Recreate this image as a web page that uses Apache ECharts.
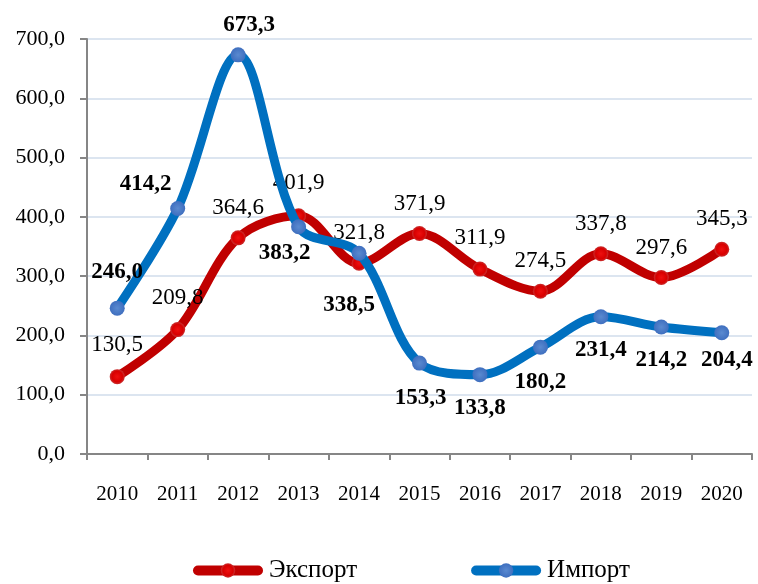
<!DOCTYPE html>
<html>
<head>
<meta charset="utf-8">
<script src="https://cdn.jsdelivr.net/npm/echarts@6/dist/echarts.min.js"></script>
<style>
html,body{margin:0;padding:0;background:#fff;}
#chart{width:758px;height:584px;}
</style>
</head>
<body>
<div id="chart"></div>
<script>
var years = ['2010','2011','2012','2013','2014','2015','2016','2017','2018','2019','2020'];
var exportValues = [130.5, 209.8, 364.6, 401.9, 321.8, 371.9, 311.9, 274.5, 337.8, 297.6, 345.3];
var importValues = [246.0, 414.2, 673.3, 383.2, 338.5, 153.3, 133.8, 180.2, 231.4, 214.2, 204.4];
var seriesNames = ['Экспорт', 'Импорт'];
var yTicks = {min: 0, max: 700, interval: 100};

// label placement (style, not data)
var exportLabelOffsets = [[0,-32],[0,-32],[0,-30],[0,-33],[0,-30],[0,-30],[0,-31],[0,-30],[0,-30],[0,-30],[0,-30]];
var importLabelOffsets = [[0,-36],[-32,-24],[11,-30],[-14,26],[-10,52],[1,35],[0,33],[0,35],[0,33],[0,33],[5,27]];

var FONT = '"Liberation Serif", "Times New Roman", serif';
function fmt(v){ return Number(v).toFixed(1).replace('.', ','); }

function buildData(values, offsets, bold){
  return values.map(function(v, i){
    return {
      value: v,
      label: {
        show: true,
        position: 'inside',
        offset: offsets[i],
        formatter: function(p){ return fmt(p.value); },
        fontFamily: FONT,
        fontSize: 23,
        fontWeight: bold ? 'bold' : 'normal',
        color: '#000'
      }
    };
  });
}

var chart = echarts.init(document.getElementById('chart'), null, {renderer: 'canvas'});
chart.setOption({
  animation: false,
  backgroundColor: '#fff',
  grid: {left: 87, right: 6, top: 39, bottom: 130, containLabel: false},
  legend: {
    top: 553,
    left: 188,
    itemWidth: 60,
    itemHeight: 18,
    itemGap: 114,
    lineStyle: {width: 10, cap: 'round'},
    textStyle: {fontFamily: FONT, fontSize: 25, color: '#000', padding: [0,0,0,6]},
    data: seriesNames
  },
  xAxis: {
    type: 'category',
    data: years,
    boundaryGap: true,
    axisLine: {show: true, lineStyle: {color: '#868686', width: 2}},
    axisTick: {show: true, length: 6, lineStyle: {color: '#868686', width: 2}},
    axisLabel: {fontFamily: FONT, fontSize: 21, color: '#000', margin: 30},
    splitLine: {show: false}
  },
  yAxis: {
    type: 'value',
    min: yTicks.min,
    max: yTicks.max,
    interval: yTicks.interval,
    axisLine: {show: true, lineStyle: {color: '#868686', width: 2}},
    axisTick: {show: true, length: 7, lineStyle: {color: '#868686', width: 2}},
    axisLabel: {fontFamily: FONT, fontSize: 22, color: '#000', margin: 22, formatter: fmt},
    splitLine: {show: true, lineStyle: {color: '#dce5f0', width: 2}}
  },
  series: [
    {
      name: seriesNames[0],
      type: 'line',
      smooth: 0.34,
      data: buildData(exportValues, exportLabelOffsets, false),
      symbol: 'circle',
      symbolSize: 15,
      lineStyle: {color: '#c00000', width: 9, cap: 'round'},
      itemStyle: {
        color: {type: 'radial', x: 0.5, y: 0.5, r: 0.5,
          colorStops: [{offset: 0, color: '#ee1010'}, {offset: 0.7, color: '#d80000'}, {offset: 1, color: '#c83030'}]},
        borderWidth: 0
      },
      z: 2
    },
    {
      name: seriesNames[1],
      type: 'line',
      smooth: 0.34,
      data: buildData(importValues, importLabelOffsets, true),
      symbol: 'circle',
      symbolSize: 15,
      lineStyle: {color: '#0070c0', width: 9, cap: 'round'},
      itemStyle: {
        color: {type: 'radial', x: 0.5, y: 0.5, r: 0.5,
          colorStops: [{offset: 0, color: '#5a8ad0'}, {offset: 0.7, color: '#4777c4'}, {offset: 1, color: '#3f6fbf'}]},
        borderWidth: 0
      },
      z: 3
    }
  ]
});
</script>
</body>
</html>
